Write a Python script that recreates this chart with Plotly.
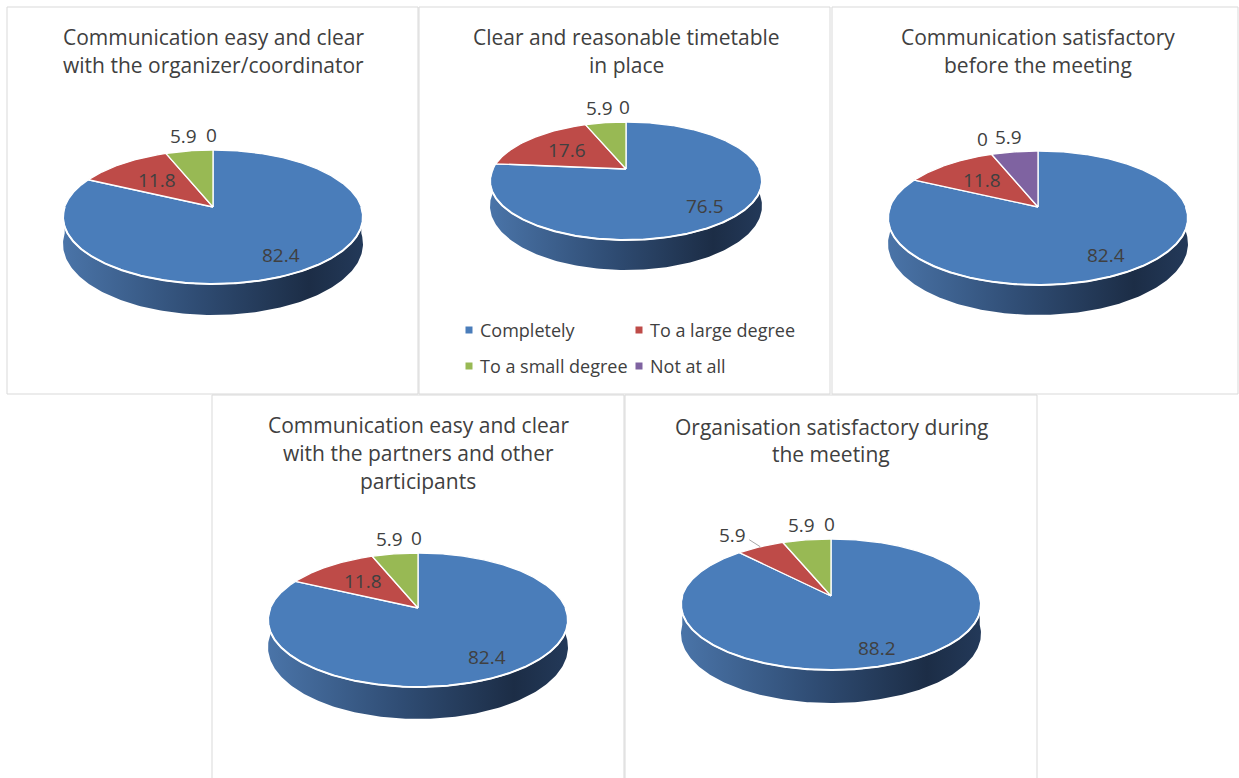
import math
import plotly.graph_objects as go

# ---- data -------------------------------------------------------------
CATEGORIES = ["Completely", "To a large degree", "To a small degree", "Not at all"]

TITLES = [
    ["Communication easy and clear", "with the organizer/coordinator"],
    ["Clear and reasonable timetable", "in place"],
    ["Communication satisfactory", "before the meeting"],
    ["Communication easy and clear", "with the partners and other", "participants"],
    ["Organisation satisfactory during", "the meeting"],
]

organizer_values = [82.4, 11.8, 5.9, 0]
timetable_values = [76.5, 17.6, 5.9, 0]
before_meeting_values = [82.4, 11.8, 0, 5.9]
partners_values = [82.4, 11.8, 5.9, 0]
during_meeting_values = [88.2, 5.9, 5.9, 0]

SERIES = [organizer_values, timetable_values, before_meeting_values,
          partners_values, during_meeting_values]

# ---- styling ----------------------------------------------------------
TOP_COLORS = ["#4a7dba", "#be4b48", "#98b954", "#7f63a1"]
SIDE_SCALES = [
    [[0, "#4a74a8"], [0.45, "#2f4c73"], [0.82, "#1c2d46"], [1, "#233959"]],
    [[0, "#a8423f"], [0.5, "#7a2e2c"], [1, "#4e1d1c"]],
    [[0, "#88a24d"], [0.5, "#627636"], [1, "#3f4c22"]],
    [[0, "#6f568d"], [0.5, "#513f67"], [1, "#342841"]],
]
TEXT = "#404040"
FONT = "Open Sans"
BORDER = "#d9d9d9"
TITLE_SIZE = 21
LABEL_SIZE = 19
LEGEND_SIZE = 18

W, H = 1239, 778

# panel frames (x0, x1, y0, y1) in pixels
FRAMES = [(7, 418, 7, 394), (419, 830, 7, 394), (832, 1238, 7, 394),
          (212, 624, 395, 790), (625, 1037, 395, 790)]

# pie geometry per panel: centre, radii of the top face, vertex lift, rim depth
PIES = [
    dict(cx=213, cy=217, rx=150, ry=67, voff=10, depth=31),
    dict(cx=626, cy=181, rx=136, ry=59, voff=12, depth=30),
    dict(cx=1038, cy=218, rx=150, ry=67, voff=11, depth=30),
    dict(cx=418, cy=620, rx=150, ry=67, voff=12, depth=32),
    dict(cx=831, cy=604.5, rx=150, ry=65.5, voff=8.5, depth=33),
]
TITLE_Y = [[37, 65], [37, 65], [37, 65], [425, 453, 481], [427, 454]]

# labels that Excel moved out with a leader line
LEADER = {4: {1}}

fig = go.Figure()


def make_proj(p):
    k = p["voff"] / p["ry"]
    a = p["rx"] * math.sqrt(1 - k * k)
    b = p["ry"] * (1 - k * k)
    c0 = p["cy"] - p["ry"] * k
    d0 = p["depth"] * (1 - k)

    def proj(theta, r=1.0, drop=False):
        t = math.radians(theta)
        u, v = r * math.sin(t), r * math.cos(t)
        w = 1 + k * v
        x = p["cx"] + a * u / w
        y = c0 - b * v / w + (d0 / w if drop else 0)
        return x, y

    return proj, c0


def arc(proj, t0, t1, drop=False, step=1.0):
    n = max(2, int(abs(t1 - t0) / step) + 1)
    pts = [proj(t0 + (t1 - t0) * i / (n - 1), drop=drop) for i in range(n)]
    return [q[0] for q in pts], [q[1] for q in pts]


annotations = []
shapes = []

for idx, (values, p) in enumerate(zip(SERIES, PIES)):
    proj, c0 = make_proj(p)
    total = sum(values)
    bounds = []
    acc = 0.0
    for v in values:
        s = acc / total * 360
        acc += v
        e = acc / total * 360
        bounds.append((s, e))

    # cylinder wall (front half only)
    for ci, (s, e) in enumerate(bounds):
        lo, hi = max(s, 90), min(e, 270)
        if hi <= lo:
            continue
        xt, yt = arc(proj, lo, hi)
        xb, yb = arc(proj, hi, lo, drop=True)
        fig.add_trace(go.Scatter(
            x=xt + xb + [xt[0]], y=yt + yb + [yt[0]], mode="lines",
            fill="toself", line=dict(width=0, color="rgba(0,0,0,0)"),
            fillgradient=dict(type="horizontal", colorscale=SIDE_SCALES[ci],
                              start=p["cx"] - p["rx"], stop=p["cx"] + p["rx"]),
            hoverinfo="skip", showlegend=False))

    # top face slices
    for ci, (s, e) in enumerate(bounds):
        if e - s <= 0:
            continue
        xa, ya = arc(proj, s, e, step=0.5)
        fig.add_trace(go.Scatter(
            x=[p["cx"]] + xa + [p["cx"]], y=[c0] + ya + [c0], mode="lines",
            fill="toself", fillcolor=TOP_COLORS[ci],
            line=dict(color="white", width=1.3),
            name=CATEGORIES[ci], text=[f"{values[ci]}"] * (len(xa) + 2),
            hoverinfo="name+text", showlegend=False))

    # white rim between top face and wall
    xr, yr = arc(proj, 90, 270, step=0.5)
    fig.add_trace(go.Scatter(x=xr, y=yr, mode="lines",
                             line=dict(color="white", width=2),
                             hoverinfo="skip", showlegend=False))

    # data labels
    for ci, (s, e) in enumerate(bounds):
        v = values[ci]
        txt = "0" if v == 0 else f"{v:.1f}"
        mid = (s + e) / 2
        sn = math.sin(math.radians(mid))
        font = dict(family=FONT, size=LABEL_SIZE, color=TEXT)
        if ci in LEADER.get(idx, set()):
            rxp, ryp = proj(mid)
            ex, ey = rxp - 11, ryp - 7
            fig.add_trace(go.Scatter(x=[rxp, ex], y=[ryp, ey], mode="lines",
                                     line=dict(color="#a6a6a6", width=1),
                                     hoverinfo="skip", showlegend=False))
            annotations.append(dict(x=ex - 1, y=ey - 5, text=txt, showarrow=False,
                                    xanchor="right", yanchor="middle", font=font))
        elif v < 10:
            rxp, ryp = proj(mid)
            annotations.append(dict(x=rxp + sn * 20 - 2, y=ryp - 15, text=txt,
                                    showarrow=False, xanchor="center",
                                    yanchor="middle", font=font))
        else:
            r = 0.78 if v >= 50 else 0.6
            lx, ly = proj(mid, r=r)
            annotations.append(dict(x=lx, y=ly, text=txt, showarrow=False,
                                    xanchor="center", yanchor="middle", font=font))

    # title lines
    for line, ty in zip(TITLES[idx], TITLE_Y[idx]):
        annotations.append(dict(x=p["cx"], y=ty, text=line, showarrow=False,
                                xanchor="center", yanchor="middle",
                                font=dict(family=FONT, size=TITLE_SIZE, color=TEXT)))

# panel frames
for x0, x1, y0, y1 in FRAMES:
    shapes.append(dict(type="rect", xref="x", yref="y", x0=x0, x1=x1, y0=y0, y1=y1,
                       line=dict(color=BORDER, width=1), layer="below"))

# legend (inside the second panel)
LEG_POS = [(469, 330), (639, 330), (469, 366), (639, 366)]
for ci, (lx, ly) in enumerate(LEG_POS):
    fig.add_trace(go.Scatter(x=[lx], y=[ly], mode="markers",
                             marker=dict(symbol="square", size=7, color=TOP_COLORS[ci]),
                             hoverinfo="skip", showlegend=False))
    annotations.append(dict(x=lx + 9, y=ly, text=CATEGORIES[ci], showarrow=False,
                            xanchor="left", yanchor="middle",
                            font=dict(family=FONT, size=LEGEND_SIZE, color=TEXT)))

fig.update_layout(
    width=W, height=H, margin=dict(l=0, r=0, t=0, b=0),
    paper_bgcolor="white", plot_bgcolor="white",
    xaxis=dict(range=[0, W], visible=False, fixedrange=True),
    yaxis=dict(range=[H, 0], visible=False, fixedrange=True),
    annotations=annotations, shapes=shapes, showlegend=False,
)

fig.write_html("out.html")
